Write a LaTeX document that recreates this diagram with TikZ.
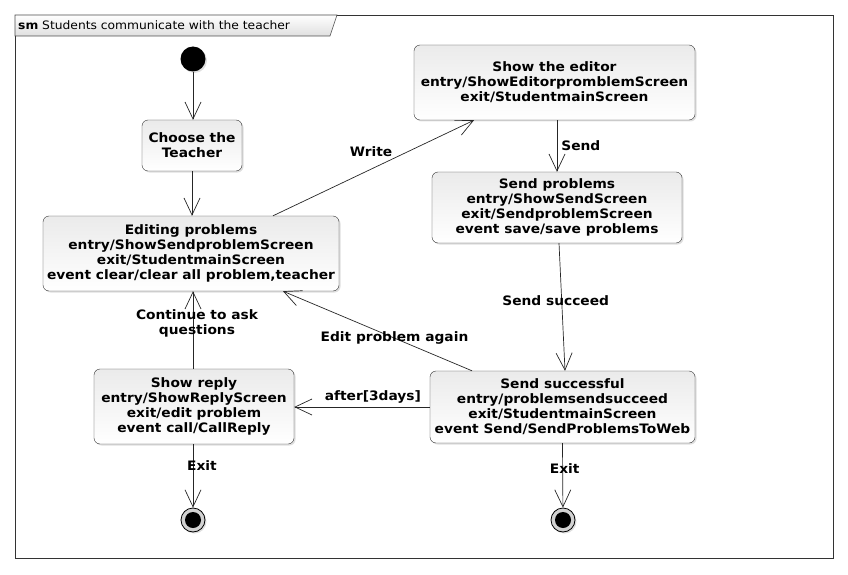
\documentclass[tikz,border=0pt]{standalone}
\usepackage{fontspec}
\setmainfont{DejaVu Sans}
\newfontfamily\umlfont[FakeStretch=1.06]{DejaVu Sans}
\usetikzlibrary{arrows.meta,shadows}

\tikzset{
  stbox/.style={draw=black!80,rounded corners=6pt,top color=gray!16,bottom color=white,
    align=center,font=\umlfont\bfseries\fontsize{13}{15}\selectfont,inner sep=1pt,
    drop shadow={shadow xshift=1.5pt,shadow yshift=-1.5pt,opacity=.25}},
  trans/.style={draw=black!85,line width=0.7pt,-{Straight Barb[length=17pt,width=16pt,line width=0.7pt]}},
  tlabel/.style={font=\umlfont\bfseries\fontsize{13}{15}\selectfont,inner sep=1pt},
  startpt/.style={circle,fill=black,minimum size=25pt,inner sep=0pt,
    drop shadow={shadow xshift=1.5pt,shadow yshift=-1.5pt,opacity=.25}},
  endpt/.style={circle,draw=black,line width=0.8pt,fill=gray!35,minimum size=24pt,inner sep=0pt,
    drop shadow={shadow xshift=1.5pt,shadow yshift=-1.5pt,opacity=.25}}
}

\begin{document}
\begin{tikzpicture}[x=1pt,y=-1pt]
        \useasboundingbox (0,0) rectangle (848,575);

        % frame and name tab
        \draw [black!80,line width=0.7pt] (15,15) rectangle (833,558);
        \draw [black!70,top color=white,bottom color=gray!25,line width=0.6pt] (15,15) -- (337,15) -- (330,36) -- (15,36) -- cycle;
        \node [anchor=west,inner sep=0pt,font=\umlfont\fontsize{11.6}{14}\selectfont] (title) at (18,25.5) {\textbf{sm} Students communicate with the teacher};

        % states
        \node [startpt] (init) at (193,59) {};
        \node [stbox,minimum width=100pt,minimum height=51pt] (choose) at (192,145.5) {Choose the\\Teacher};
        \node [stbox,minimum width=296pt,minimum height=75pt] (edit) at (191,253.5) {Editing problems\\entry/ShowSendproblemScreen\\exit/StudentmainScreen\\event clear/clear all problem,teacher};
        \node [stbox,minimum width=281pt,minimum height=75pt] (editor) at (554.5,82.5) {Show the editor\\entry/ShowEditorpromblemScreen\\exit/StudentmainScreen};
        \node [stbox,minimum width=250pt,minimum height=71pt] (sendp) at (557,207.5) {Send problems\\entry/ShowSendScreen\\exit/SendproblemScreen\\event save/save problems};
        \node [stbox,minimum width=200pt,minimum height=75pt] (reply) at (194,406.5) {Show reply\\entry/ShowReplyScreen\\exit/edit problem\\event call/CallReply};
        \node [stbox,minimum width=265pt,minimum height=72pt] (sendok) at (562.5,407) {Send successful\\entry/problemsendsucceed\\exit/StudentmainScreen\\event Send/SendProblemsToWeb};
        \node [endpt] (end1) at (193,520) {};
        \node [endpt] (end2) at (563,520) {};
        \fill (end1) circle (8pt);
        \fill (end2) circle (8pt);

        % transitions
        \draw [trans] (init) -- (init |- choose.north);
        \draw [trans] (choose) -- (choose |- edit.north);
        \draw [trans] ([xshift=82pt]edit.north) -- node[tlabel,pos=0.6,anchor=south east] {Write} ([xshift=-80.5pt]editor.south);
        \draw [trans] ([xshift=2.5pt]editor.south) -- node[tlabel,midway,right,xshift=3pt] {Send} (sendp.north);
        \draw [trans] ([xshift=2pt]sendp.south) -- node[tlabel,pos=0.45,xshift=-6pt] {Send succeed} ([xshift=2.5pt]sendok.north);
        \draw [trans] ([xshift=-90.5pt]sendok.north) -- node[tlabel,pos=0.41] {Edit problem again} ([xshift=92pt]edit.south);
        \draw [trans] (sendok.west) -- node[tlabel,pos=0.42,above,yshift=2pt] {after[3days]} (reply.east |- sendok.west);
        \draw [trans] ([xshift=-1pt]reply.north) -- node[tlabel,pos=0.58,align=center,xshift=4pt] {Continue to ask\\questions} ([xshift=2pt]edit.south);
        \draw [trans] ([xshift=-1pt]reply.south) -- node[tlabel,pos=0.33,xshift=9pt] {Exit} (end1);
        \draw [trans] (sendok.south) -- node[tlabel,pos=0.4,xshift=2pt] {Exit} (end2);
    \end{tikzpicture}
\end{document}
